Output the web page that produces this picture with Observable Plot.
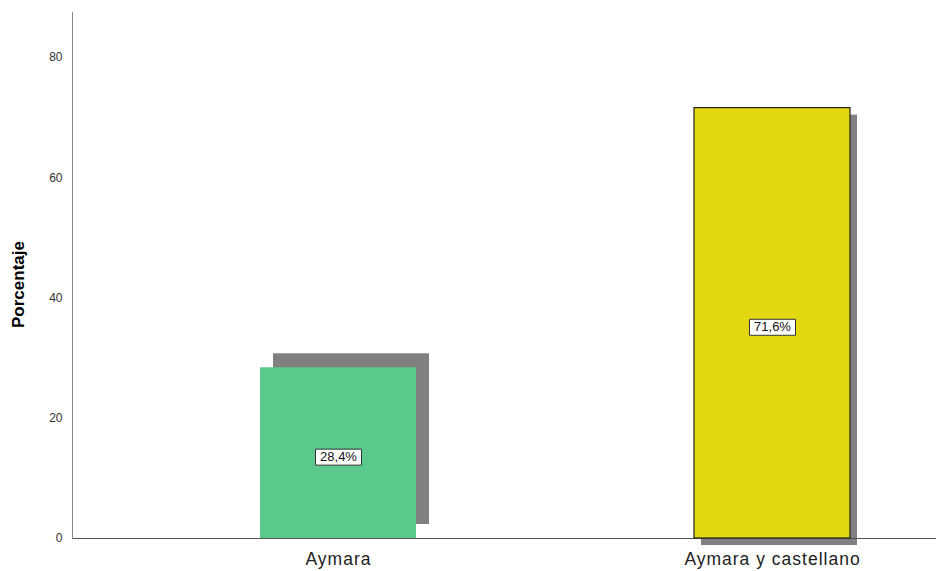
<!DOCTYPE html>
<html>
<head>
<meta charset="utf-8">
<script src="https://cdn.jsdelivr.net/npm/d3@7"></script>
<script src="https://cdn.jsdelivr.net/npm/@observablehq/plot@0.6"></script>
<style>
  html, body { margin: 0; padding: 0; background: #fff; }
  svg { display: block; }
</style>
</head>
<body>
<div id="chart"></div>
<script>
const categories = ["Aymara", "Aymara y castellano"];
const percentages = [28.4, 71.6];
const labels = ["28,4%", "71,6%"];
const colors = ["#5ac98b", "#e2d711"];
const yTicks = [0, 20, 40, 60, 80];

const data = categories.map((c, i) => ({cat: c, value: percentages[i], label: labels[i], color: colors[i]}));

const boxSymbol = {
  draw(context) {
    context.moveTo(-23, -8);
    context.lineTo(23, -8);
    context.lineTo(23, 8);
    context.lineTo(-23, 8);
    context.closePath();
  }
};

const chart = Plot.plot({
  width: 936,
  height: 571,
  marginLeft: 72,
  marginRight: 0,
  marginTop: 12,
  marginBottom: 33,
  style: {fontFamily: "'Liberation Sans', Arial, sans-serif", background: "#fff"},
  x: {domain: categories, range: [260, 851], paddingInner: 0.64, paddingOuter: 0, label: null},
  y: {domain: [0, 87.5], label: null},
  marks: [
    Plot.barY([data[0]], {x: "cat", y: "value", fill: "#808080", dx: 13, dy: -14}),
    Plot.barY([data[1]], {x: "cat", y: "value", fill: "#808080", dx: 7, dy: 7}),
    Plot.ruleY([0], {stroke: "#555", strokeWidth: 1}),
    Plot.barY([data[0]], {x: "cat", y: "value", fill: "color"}),
    Plot.barY([data[1]], {x: "cat", y: "value", fill: "color", stroke: "#222", strokeWidth: 1.2}),
    Plot.dot(data, {x: "cat", y: d => d.value / 2, symbol: boxSymbol, fill: "white", stroke: "#333", strokeWidth: 1, dy: 4}),
    Plot.text(data, {x: "cat", y: d => d.value / 2, text: "label", fontSize: 13, fill: "#111", dy: 4, ariaLabel: "bar-value"}),
    Plot.axisY({ticks: yTicks, tickSize: 0, tickPadding: 10, fontSize: 12, color: "#333", label: null}),
    Plot.axisX({tickSize: 0, tickPadding: 14, fontSize: 17.5, color: "#222", label: null}),
    Plot.frame({anchor: "left", stroke: "#888"}),
    Plot.text(["Porcentaje"], {frameAnchor: "left", textAnchor: "middle", rotate: -90, dx: -54, dy: 9, text: d => d, fontWeight: "bold", fontSize: 17, fill: "#000", ariaLabel: "y-title"})
  ]
});
d3.select(chart).selectAll('g[aria-label="x-axis tick label"] text').style("letter-spacing", "1px");
d3.select(chart).selectAll('g[aria-label="y-title"] text').style("letter-spacing", "1.5px");
d3.select(chart).selectAll('g[aria-label="bar-value"] text').style("letter-spacing", "0.3px");
document.getElementById("chart").appendChild(chart);
</script>
</body>
</html>
